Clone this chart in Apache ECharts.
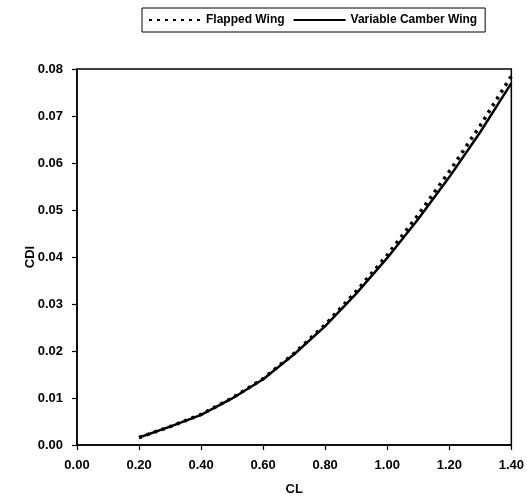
<!DOCTYPE html>
<html>
<head>
<meta charset="utf-8">
<script src="https://cdn.jsdelivr.net/npm/echarts@6/dist/echarts.min.js"></script>
<style>html,body{margin:0;padding:0;background:#fff;}#chart{width:527px;height:504px;}</style>
</head>
<body>
<div id="chart"></div>
<script>
const cl = [0.2, 0.3, 0.4, 0.5, 0.6, 0.7, 0.8, 0.9, 1.0, 1.1, 1.2, 1.3, 1.4];
const flappedWing = [0.0016, 0.0039, 0.0065, 0.0100, 0.0141, 0.0195, 0.0256, 0.0327, 0.0404, 0.0490, 0.0582, 0.0680, 0.0785];
const variableCamberWing = [0.0016, 0.0039, 0.0064, 0.0099, 0.0140, 0.0193, 0.0253, 0.0322, 0.0398, 0.0481, 0.0570, 0.0666, 0.0770];
const xTicks = [0.0, 1.4, 0.2];
const yTicks = [0.0, 0.08, 0.01];

const font = 'Liberation Sans, Arial, sans-serif';
const chart = echarts.init(document.getElementById('chart'), null, {renderer: 'canvas'});
chart.setOption({
  animation: false,
  backgroundColor: '#fff',
  textStyle: {fontFamily: font, color: '#000'},
  legend: {
    left: 142, top: 8,
    padding: [6, 8, 6, 6],
    borderColor: '#000', borderWidth: 1,
    itemWidth: 52, itemHeight: 12, itemGap: 8,
    itemStyle: {opacity: 0},
    textStyle: {fontFamily: font, fontWeight: 'bold', fontSize: 12, color: '#000'},
    data: ['Flapped Wing', 'Variable Camber Wing']
  },
  grid: {left: 77, right: 15, top: 69, bottom: 59, show: true, borderColor: '#000', borderWidth: 1.5, backgroundColor: 'transparent'},
  xAxis: {
    type: 'value', min: xTicks[0], max: xTicks[1], interval: xTicks[2],
    name: 'CL', nameLocation: 'middle', nameGap: 38,
    nameTextStyle: {fontFamily: font, fontWeight: 'bold', fontSize: 13, color: '#000'},
    axisLine: {show: true, lineStyle: {color: '#000', width: 1.5}},
    axisTick: {show: true, length: 5, lineStyle: {color: '#000', width: 1.2}},
    axisLabel: {fontFamily: font, fontWeight: 'bold', fontSize: 13, color: '#000', margin: 14, formatter: v => v.toFixed(2)},
    splitLine: {show: false}
  },
  yAxis: {
    type: 'value', min: yTicks[0], max: yTicks[1], interval: yTicks[2],
    name: 'CDl', nameLocation: 'middle', nameGap: 40, nameRotate: 90, nameMoveOverlap: false,
    nameTextStyle: {fontFamily: font, fontWeight: 'bold', fontSize: 13, color: '#000'},
    axisLine: {show: true, lineStyle: {color: '#000', width: 1.5}},
    axisTick: {show: true, length: 5, lineStyle: {color: '#000', width: 1.2}},
    axisLabel: {fontFamily: font, fontWeight: 'bold', fontSize: 13, color: '#000', margin: 14, formatter: v => v.toFixed(2)},
    splitLine: {show: false}
  },
  series: [
    {
      name: 'Flapped Wing', type: 'line', symbol: 'none', smooth: false,
      data: cl.map((x, i) => [x, flappedWing[i]]),
      lineStyle: {color: '#000', width: 3.5, type: [3, 5], cap: 'butt'},
      itemStyle: {color: '#000'}, z: 3
    },
    {
      name: 'Variable Camber Wing', type: 'line', symbol: 'none', smooth: false,
      data: cl.map((x, i) => [x, variableCamberWing[i]]),
      lineStyle: {color: '#000', width: 2.5, type: 'solid'},
      itemStyle: {color: '#000'}, z: 2
    }
  ]
});
</script>
</body>
</html>
